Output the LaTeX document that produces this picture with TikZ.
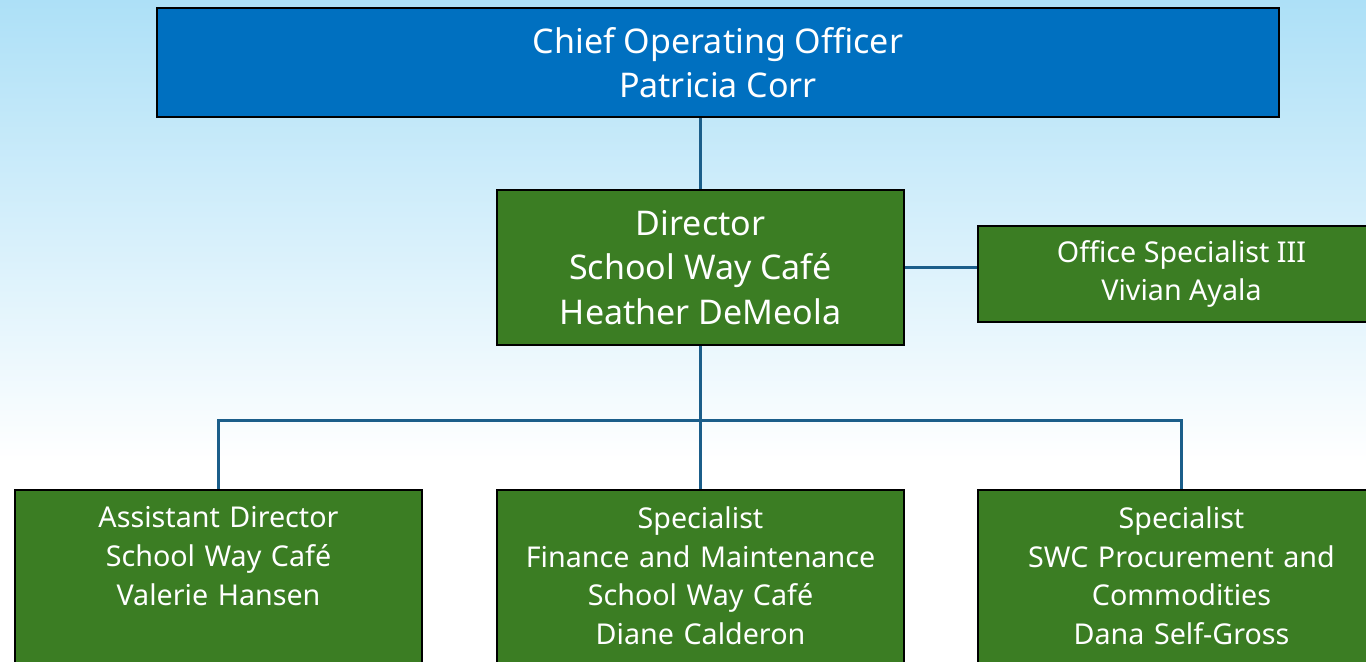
\documentclass[tikz,border=0pt]{standalone}
\usepackage{fontspec}
\setmainfont{Noto Sans}
\usetikzlibrary{calc}
\definecolor{cooblue}{HTML}{0070C0}
\definecolor{swcgreen}{HTML}{3B7D23}
\definecolor{linkblue}{HTML}{1B5E8A}
\definecolor{skytop}{HTML}{ADE0F7}
\pgfdeclareverticalshading{skyfade}{100bp}{color(0bp)=(white); color(25bp)=(white); color(40bp)=(white); color(75bp)=(skytop); color(100bp)=(skytop)}
\tikzstyle{unit}=[draw=black, line width=1.5pt, fill=swcgreen, text=white, align=center, inner sep=0]
\tikzstyle{bigtxt}=[font=\fontsize{25.5}{33.4}\selectfont]
\tikzstyle{smalltxt}=[font=\fontsize{21.5}{29}\selectfont]
\tikzstyle{staff}=[unit, smalltxt, anchor=north, minimum width=305.25pt, text width=300pt, inner ysep=12.5pt, text depth=150pt]
\tikzstyle{link}=[draw=linkblue, line width=2.25pt]

\begin{document}
\begin{tikzpicture}[x=0.75pt, y=-0.75pt]
\useasboundingbox (0,0) rectangle (1366,661);
\shade[shading=skyfade] (0,0) rectangle (1366,661);
\clip (0,0) rectangle (1366,661);
\node[unit, bigtxt, fill=cooblue, minimum width=841.5pt, minimum height=81.75pt] (coo) at (718,62.5) {Chief Operating Officer\\Patricia Corr};
\node[unit, bigtxt, minimum width=305.25pt, minimum height=116.25pt] (dir) at (700.5,267.5) {Director\\School Way Café\\Heather DeMeola};
\node[unit, smalltxt, minimum width=305.25pt, minimum height=72pt] (ofc) at (1181.5,274) {Office Specialist III\\Vivian Ayala};
\node[staff] (asst) at (218.5,489) {Assistant Director\\School Way Café\\Valerie Hansen};
\node[staff] (fin) at (700.5,489) {Specialist\\Finance and Maintenance\\School Way Café\\Diane Calderon};
\node[staff] (proc) at (1181.5,489) {Specialist\\SWC Procurement and\\Commodities\\Dana Self-Gross};
\coordinate (bus) at (700.5,420);
\draw[link] (coo.south -| dir.north) -- (dir.north);
\draw[link] (dir.east) -- (dir.east -| ofc.west);
\draw[link] (dir.south) -- (bus);
\draw[link] (asst.north) |- (bus) -| (proc.north);
\draw[link] (bus) -- (fin.north);
\end{tikzpicture}
\end{document}
